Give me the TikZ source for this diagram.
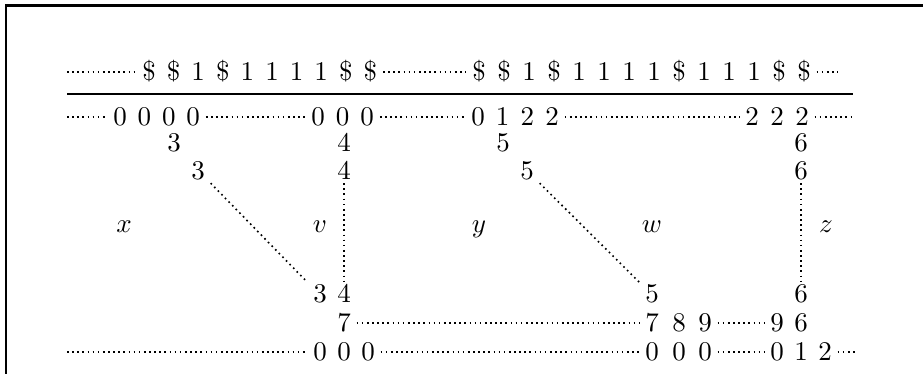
\documentclass[tikz,border=0pt]{standalone}
\usetikzlibrary{positioning}
\tikzset{
 ch/.style={anchor=base,inner xsep=2pt,inner ysep=1pt,text height=6.5pt,text depth=0pt},
 dots/.style={line width=.6pt,dash pattern=on .6pt off 1.3pt},
}
\begin{document}
\begin{tikzpicture}[x=0.37037pt,y=-0.37037pt]
\useasboundingbox (0,0) rectangle (923,374);
\draw[thick] (6,374) -- (6,5.5) -- (923,5.5);
% text row
\foreach \c [count=\i] in {\$,\$,1,\$,1,1,1,1,\$,\$}
 \node[ch] (sa\i) at ({149+(\i-1)*24.6},81) {\c};
\foreach \c [count=\i] in {\$,\$,1,\$,1,1,1,1,\$,1,1,1,\$,\$}
 \node[ch] (sb\i) at ({479+(\i-1)*25},81) {\c};
\draw[thick] (67,94) -- (853,94);
% rows below the rule
\foreach \c [count=\i] in {0,0,0,0}
 \node[ch] (ba\i) at ({120+(\i-1)*24.4},126) {\c};
\foreach \c [count=\i] in {0,0,0}
 \node[ch] (bb\i) at ({318+(\i-1)*24.6},126) {\c};
\foreach \c [count=\i] in {0,1,2,2}
 \node[ch] (bc\i) at ({478+(\i-1)*24.7},126) {\c};
\foreach \c [count=\i] in {2,2,2}
 \node[ch] (bd\i) at ({752+(\i-1)*25},126) {\c};
\foreach \c/\x [count=\i] in {3/174,4/344,5/503,6/801}
 \node[ch] (c\i) at (\x,152) {\c};
\foreach \c/\x [count=\i] in {3/198,4/344,5/527,6/801}
 \node[ch] (d\i) at (\x,180) {\c};
\foreach \c/\x in {x/124,v/320,y/479,w/652,z/826}
 \node[anchor=base] (l\c) at (\x,233) {$\c$};
\foreach \c/\x [count=\i] in {3/320,4/344,5/652,6/801}
 \node[ch] (e\i) at (\x,303) {\c};
\node[ch] (fa) at (344,332) {7};
\foreach \c/\x [count=\i] in {7/652,8/679,9/705}
 \node[ch] (fb\i) at (\x,332) {\c};
\foreach \c/\x [count=\i] in {9/777,6/801}
 \node[ch] (fc\i) at (\x,332) {\c};
\foreach \c/\x [count=\i] in {0/320,0/344,0/368}
 \node[ch] (ga\i) at (\x,361) {\c};
\foreach \c/\x [count=\i] in {0/652,0/679,0/705}
 \node[ch] (gb\i) at (\x,361) {\c};
\foreach \c/\x [count=\i] in {0/777,1/801,2/825}
 \node[ch] (gc\i) at (\x,361) {\c};
% free ends of the dotted runs
\coordinate (sl) at (sa1 -| 67,0);
\coordinate (sr) at (sb14 -| 838,0);
\coordinate (bl) at (ba1 -| 67,0);
\coordinate (br) at (bd3 -| 852,0);
\coordinate (gl) at (ga1 -| 67,0);
\coordinate (gr) at (gc3 -| 855,0);
% dotted runs
\draw[dots] (sl) -- (sa1);
\draw[dots] (sa10) -- (sb1);
\draw[dots] (sb14) -- (sr);
\draw[dots] (bl) -- (ba1);
\draw[dots] (ba4) -- (bb1);
\draw[dots] (bb3) -- (bc1);
\draw[dots] (bc4) -- (bd1);
\draw[dots] (bd3) -- (br);
\draw[dots] (d1.south east) -- (e1.north west);
\draw[dots] (d2) -- (e2);
\draw[dots] (d3.south east) -- (e3.north west);
\draw[dots] (d4) -- (e4);
\draw[dots] (fa) -- (fb1);
\draw[dots] (fb3) -- (fc1);
\draw[dots] (gl) -- (ga1);
\draw[dots] (ga3) -- (gb1);
\draw[dots] (gb3) -- (gc1);
\draw[dots] (gc3) -- (gr);
\end{tikzpicture}
\end{document}
